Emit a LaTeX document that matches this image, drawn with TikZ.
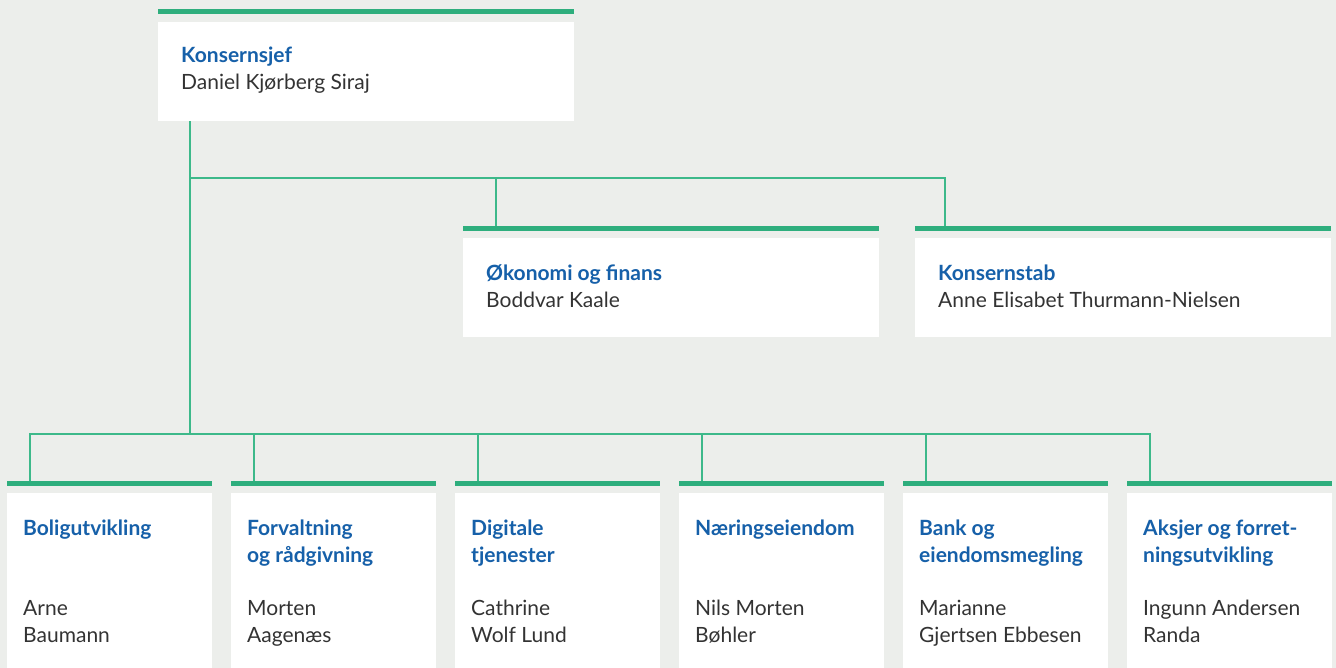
\documentclass[tikz,border=0pt]{standalone}
\usepackage{fontspec}
\setmainfont{Lato}
\usetikzlibrary{calc}
\definecolor{bgc}{HTML}{ECEEEB}
\definecolor{barc}{HTML}{2EAE7D}
\definecolor{linec}{HTML}{3DB98A}
\definecolor{ttlc}{HTML}{1660A9}
\definecolor{nmc}{HTML}{333333}
\begin{document}
\begin{tikzpicture}[x=1pt,y=-1pt,
  card/.style={fill=white, draw=none, inner sep=0pt, anchor=north west, minimum height=#1},
  card/.default=99pt,
  bar/.style={fill=barc, draw=none, inner sep=0pt, anchor=north west, minimum height=5pt},
  conn/.style={draw=linec, line width=1.5pt},
  ttl/.style={anchor=base west, inner sep=0pt, text=ttlc, font=\fontsize{21}{27}\selectfont\bfseries},
  nm/.style={anchor=base west, inner sep=0pt, text=nmc, font=\fontsize{21}{27}\selectfont}]
\fill[bgc] (0,0) rectangle (1336,668);
\useasboundingbox (0,0) rectangle (1336,668);
% top
\node[bar, minimum width=416pt] (barT) at (158,9) {};
\node[card, minimum width=416pt] (top) at (158,22) {};
\node[ttl] (tT) at (181,63) {Konsernsjef};
\node[nm] (nT) at (181,90) {Daniel Kjørberg Siraj};
% middle
\node[bar, minimum width=416pt] (barO) at (463,226) {};
\node[card, minimum width=416pt] (oko) at (463,238) {};
\node[ttl] (tO) at (486,281) {Økonomi og finans};
\node[nm] (nO) at (486,308) {Boddvar Kaale};
\node[bar, minimum width=416pt] (barK) at (915,226) {};
\node[card, minimum width=416pt] (kst) at (915,238) {};
\node[ttl] (tK) at (938,281) {Konsernstab};
\node[nm] (nK) at (938,308) {Anne Elisabet Thurmann-Nielsen};
% bottom
\foreach \i/\ta/\tb/\na/\nb in {
  0/Boligutvikling//Arne/Baumann,
  1/Forvaltning/og rådgivning/Morten/Aagenæs,
  2/Digitale/tjenester/Cathrine/Wolf Lund,
  3/Næringseiendom//Nils Morten/Bøhler,
  4/Bank og/eiendomsmegling/Marianne/Gjertsen Ebbesen,
  5/Aksjer og forret-/ningsutvikling/Ingunn Andersen/Randa}{
  \pgfmathsetmacro{\xo}{7+224*\i}
  \node[bar, minimum width=204.5pt] (barB\i) at (\xo,481) {};
  \node[card=180pt, minimum width=204.5pt] (unit\i) at (\xo,493) {};
  \node[ttl] (ta\i) at (\xo+16,535) {\ta};
  \node[ttl] (tb\i) at (\xo+16,562) {\tb};
  \node[nm] (na\i) at (\xo+16,615) {\na};
  \node[nm] (nb\i) at (\xo+16,642) {\nb};
  \coordinate (d\i) at ($(barB\i.north west)+(23,0)$);
}
% connectors
\coordinate (j1) at (190,178);
\coordinate (j2) at (190,434);
\coordinate (dO) at ($(barO.north west)+(33,0)$);
\coordinate (dK) at ($(barK.north west)+(30,0)$);
\draw[conn] (top.south west -| j1) -- (j2);
\draw[conn] (j1) -| (dO);
\draw[conn] (j1) -| (dK);
\draw[conn] (d0) |- (j2) -| (d5);
\foreach \i in {1,2,3,4}{
  \draw[conn] (j2 -| d\i) -- (d\i);
}
\end{tikzpicture}
\end{document}
